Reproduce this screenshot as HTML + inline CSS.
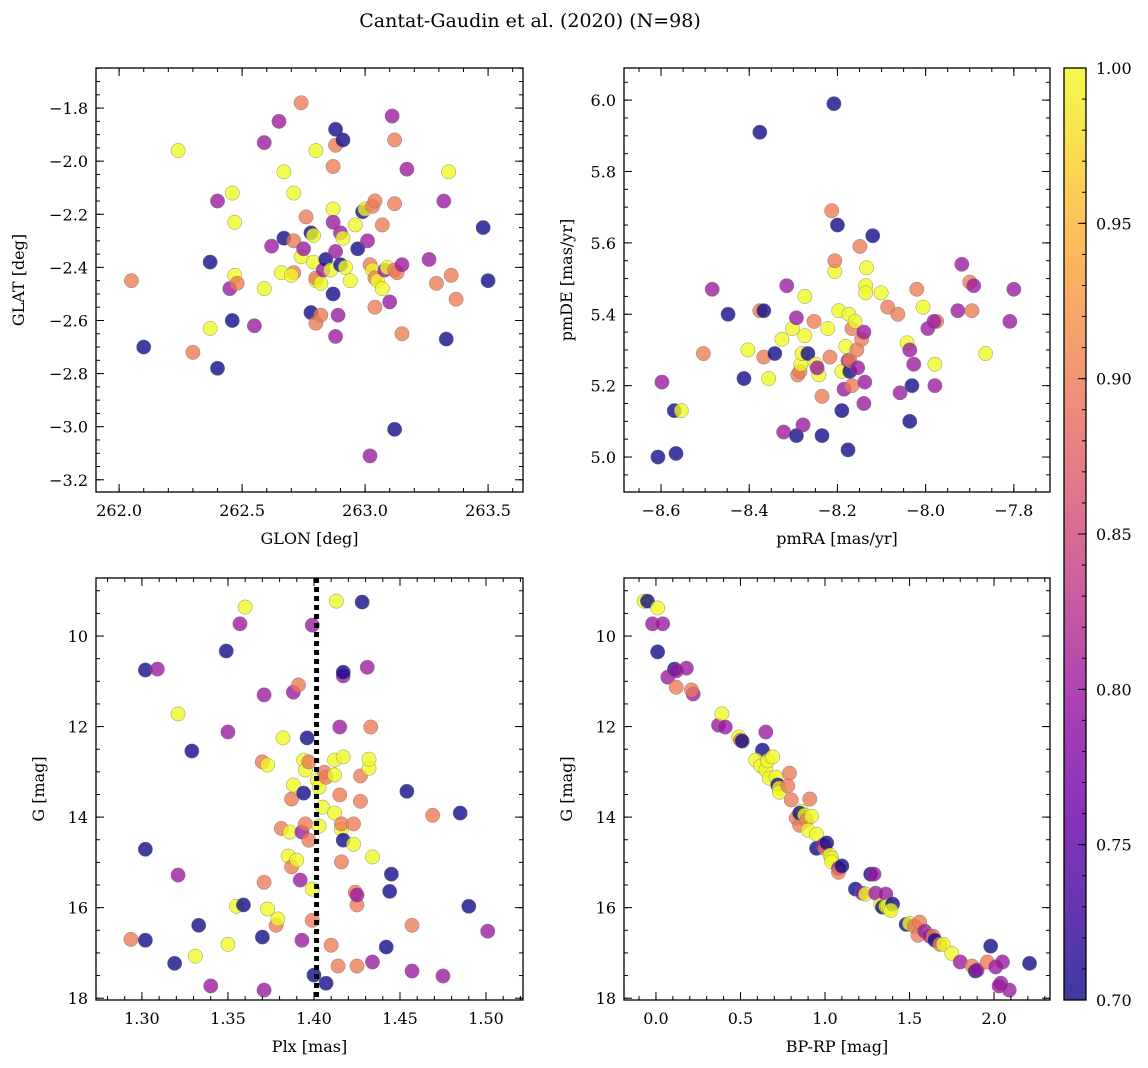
<!DOCTYPE html>
<html><head><meta charset="utf-8"><style>
html,body{margin:0;padding:0;background:#fff;}
svg{display:block;font-family:"DejaVu Serif","Liberation Serif",serif;}
</style></head><body>
<svg id="fig" width="1148" height="1068" viewBox="0 0 1148 1068">
<text x="530" y="27" font-size="19" text-anchor="middle">Cantat-Gaudin et al. (2020) (N=98)</text>
</svg>
<script>
// Panel 1: GLON vs GLAT
const glon=[262.05,262.10,262.24,262.30,262.37,262.37,262.40,262.40,262.45,262.46,262.46,262.47,262.47,262.48,262.55,262.59,262.59,262.62,262.65,262.67,262.67,262.66,262.71,262.71,262.70,262.71,262.74,262.74,262.75,262.76,262.78,262.79,262.80,262.79,262.80,262.80,262.78,262.80,262.82,262.82,262.83,262.84,262.86,262.87,262.88,262.88,262.87,262.87,262.88,262.87,262.89,262.88,262.90,262.90,262.91,262.91,262.92,262.94,262.96,262.97,262.99,263.00,263.01,263.02,263.03,263.02,263.03,263.04,263.04,263.04,263.05,263.07,263.07,263.08,263.09,263.10,263.11,263.12,263.12,263.12,263.13,263.12,263.15,263.15,263.17,263.26,263.29,263.32,263.33,263.34,263.35,263.37,263.48,263.50];
const glat=[-2.45,-2.70,-1.96,-2.72,-2.38,-2.63,-2.15,-2.78,-2.48,-2.12,-2.60,-2.23,-2.43,-2.46,-2.62,-2.48,-1.93,-2.32,-1.85,-2.04,-2.29,-2.42,-2.30,-2.42,-2.43,-2.12,-2.36,-1.78,-2.33,-2.21,-2.27,-2.28,-1.96,-2.38,-2.45,-2.44,-2.57,-2.61,-2.58,-2.46,-2.41,-2.37,-2.41,-2.02,-1.88,-1.94,-2.18,-2.23,-2.34,-2.50,-2.58,-2.66,-2.39,-2.27,-1.92,-2.29,-2.40,-2.45,-2.24,-2.33,-2.19,-2.18,-2.30,-2.39,-2.41,-3.11,-2.17,-2.15,-2.44,-2.55,-2.45,-2.24,-2.48,-2.41,-2.40,-2.53,-1.83,-1.92,-2.16,-2.41,-2.42,-3.01,-2.39,-2.65,-2.03,-2.37,-2.46,-2.15,-2.67,-2.04,-2.43,-2.52,-2.25,-2.45];
const prob1=[0.9,0.7,1,0.9,0.7,1,0.8,0.7,0.8,1,0.7,1,1,0.9,0.8,1,0.8,0.8,0.8,1,0.7,1,0.9,0.9,1,1,1,0.9,0.8,0.9,0.7,1,1,1,1,0.9,0.7,0.9,0.9,1,0.8,0.7,1,0.9,0.7,0.9,1,0.8,0.8,0.7,0.8,0.8,0.7,0.8,0.7,1,1,1,1,0.7,0.7,1,0.8,0.9,1,0.8,0.9,0.9,0.9,0.9,1,0.9,1,0.8,1,0.8,0.8,0.9,0.9,0.9,0.9,0.7,0.8,0.9,0.8,0.8,0.9,0.8,0.7,1,0.9,0.9,0.7,0.7];
// Panel 2: pmRA vs pmDE
const pmra=[-8.607,-8.566,-8.570,-8.554,-8.598,-8.484,-8.504,-8.448,-8.412,-8.403,-8.376,-8.367,-8.367,-8.356,-8.342,-8.326,-8.322,-8.315,-8.376,-8.302,-8.293,-8.290,-8.285,-8.283,-8.280,-8.293,-8.274,-8.274,-8.278,-8.267,-8.253,-8.249,-8.242,-8.246,-8.235,-8.235,-8.222,-8.213,-8.206,-8.206,-8.208,-8.217,-8.200,-8.197,-8.190,-8.190,-8.185,-8.181,-8.176,-8.174,-8.172,-8.176,-8.172,-8.167,-8.167,-8.160,-8.156,-8.149,-8.154,-8.145,-8.140,-8.138,-8.140,-8.136,-8.136,-8.134,-8.120,-8.101,-8.086,-8.063,-8.058,-8.042,-8.036,-8.031,-8.036,-8.027,-8.020,-8.006,-7.995,-7.979,-7.979,-7.975,-7.981,-7.927,-7.918,-7.900,-7.895,-7.891,-7.864,-7.809,-7.800];
const pmde=[5.00,5.01,5.13,5.13,5.21,5.47,5.29,5.40,5.22,5.30,5.41,5.41,5.28,5.22,5.29,5.33,5.07,5.48,5.91,5.36,5.39,5.23,5.24,5.26,5.29,5.06,5.45,5.34,5.09,5.29,5.38,5.26,5.23,5.25,5.06,5.17,5.36,5.69,5.52,5.55,5.99,5.28,5.65,5.41,5.24,5.13,5.19,5.31,5.27,5.40,5.24,5.02,5.27,5.36,5.20,5.38,5.30,5.59,5.25,5.33,5.35,5.21,5.15,5.48,5.46,5.53,5.62,5.46,5.42,5.40,5.18,5.32,5.10,5.20,5.30,5.26,5.47,5.42,5.36,5.26,5.20,5.38,5.38,5.41,5.54,5.49,5.41,5.48,5.29,5.38,5.47];
const prob2=[0.7,0.7,0.7,1,0.8,0.8,0.9,0.7,0.7,1,0.9,0.7,0.9,1,0.7,1,0.8,0.8,0.7,1,0.8,0.9,0.9,1,1,0.7,1,1,0.8,0.7,0.9,1,1,0.8,0.7,0.9,1,0.9,1,0.9,0.7,0.9,0.7,1,1,0.7,0.8,1,0.8,1,0.7,0.7,0.9,0.9,0.9,1,0.9,0.9,0.8,0.9,0.8,0.8,0.8,1,1,1,0.7,1,0.9,0.9,0.8,1,0.7,0.7,0.8,0.8,0.9,1,0.8,1,0.8,0.9,0.8,0.8,0.8,0.9,0.9,0.8,1,0.8,0.8];
// Panel 3: Plx vs G
const plx=[1.2936,1.302,1.302,1.302,1.309,1.319,1.321,1.321,1.329,1.331,1.333,1.340,1.349,1.350,1.350,1.355,1.357,1.359,1.360,1.370,1.371,1.370,1.371,1.371,1.373,1.373,1.378,1.379,1.381,1.382,1.385,1.386,1.387,1.387,1.388,1.388,1.390,1.391,1.393,1.393,1.392,1.394,1.395,1.396,1.394,1.395,1.397,1.397,1.399,1.399,1.399,1.400,1.402,1.403,1.403,1.405,1.406,1.407,1.407,1.410,1.412,1.412,1.412,1.413,1.414,1.415,1.415,1.416,1.416,1.416,1.417,1.417,1.417,1.417,1.423,1.423,1.424,1.425,1.425,1.425,1.427,1.427,1.428,1.431,1.432,1.432,1.433,1.434,1.434,1.442,1.444,1.445,1.454,1.457,1.457,1.469,1.475,1.485,1.490,1.501];
const gmag3=[16.70,14.71,16.72,10.75,10.73,17.23,15.28,11.72,12.54,17.07,16.39,17.73,10.33,16.81,12.12,15.97,9.73,15.94,9.36,16.65,11.30,12.78,17.82,15.44,16.03,12.85,16.39,16.25,14.25,12.25,14.86,14.33,13.60,15.10,11.24,13.29,14.95,11.08,14.33,16.72,15.39,12.74,12.96,12.25,13.47,14.15,12.78,14.51,9.76,15.59,16.28,17.49,13.18,13.34,14.20,13.78,13.01,13.12,17.67,16.83,13.91,12.74,13.07,9.23,17.29,12.01,13.51,14.27,14.99,14.15,10.88,10.80,12.67,14.51,14.60,14.15,15.66,15.94,15.72,17.29,13.09,13.65,9.25,10.69,12.92,12.72,12.01,14.88,17.20,16.87,15.64,15.26,13.43,16.39,17.40,13.96,17.51,13.91,15.97,16.52];
const prob3=[0.9,0.7,0.7,0.7,0.8,0.7,0.8,1,0.7,1,0.7,0.8,0.7,1,0.8,1,0.8,0.7,1,0.7,0.8,0.9,0.8,0.9,1,1,0.9,1,0.9,1,1,1,0.9,0.9,0.8,1,1,0.9,0.8,0.8,0.8,1,1,0.7,0.7,0.9,0.9,0.9,0.8,1,0.9,0.7,1,1,1,1,0.9,0.9,0.7,0.9,1,1,1,1,0.9,0.8,0.9,1,0.9,0.9,0.8,0.7,1,0.7,1,0.9,0.9,0.9,0.8,0.9,0.9,0.9,0.7,0.8,1,1,0.9,1,0.8,0.7,0.7,0.7,0.7,0.9,0.8,0.9,0.8,0.7,0.7,0.8];
const plxMean=[1.4015];
// Panel 4: BP-RP vs G
const bprp=[-0.07,-0.05,0.01,-0.02,0.04,0.01,0.07,0.11,0.12,0.12,0.18,0.22,0.21,0.37,0.39,0.41,0.49,0.50,0.51,0.63,0.65,0.59,0.62,0.65,0.66,0.67,0.69,0.71,0.72,0.73,0.73,0.79,0.78,0.80,0.83,0.85,0.86,0.85,0.88,0.89,0.90,0.91,0.92,0.95,0.95,0.99,1.00,1.01,1.03,1.04,1.04,1.08,1.08,1.10,1.18,1.22,1.24,1.27,1.29,1.30,1.33,1.34,1.36,1.36,1.37,1.38,1.40,1.39,1.48,1.50,1.53,1.55,1.56,1.59,1.62,1.64,1.65,1.68,1.70,1.75,1.80,1.87,1.89,1.90,1.96,1.98,2.01,2.04,2.03,2.05,2.09,2.21];
const gmag4=[9.23,9.23,9.38,9.73,9.73,10.35,10.91,10.73,10.77,11.13,10.71,11.28,11.19,11.97,11.72,12.01,12.23,12.30,12.32,12.52,12.12,12.74,12.87,12.96,12.76,13.14,12.67,13.12,13.29,13.36,13.45,13.03,13.31,13.62,14.02,14.18,13.87,13.91,13.96,14.07,14.29,13.60,13.98,14.38,14.69,14.62,14.69,14.57,14.84,14.91,14.99,15.13,15.22,15.08,15.59,15.68,15.70,15.26,15.26,15.68,15.94,15.99,15.70,15.97,15.97,16.03,15.92,16.06,16.37,16.35,16.41,16.61,16.32,16.52,16.63,16.63,16.72,16.81,16.81,17.01,17.20,17.29,17.40,17.38,17.20,16.85,17.31,17.67,17.73,17.20,17.82,17.23];
const prob4=[1,0.7,1,0.8,0.8,0.7,0.8,0.7,0.8,0.9,0.8,0.8,0.9,0.8,1,0.8,1,0.9,0.7,0.7,0.8,1,1,1,1,1,1,1,0.7,1,1,0.9,0.9,0.9,0.9,0.9,1,0.7,1,0.9,1,0.9,1,1,0.7,0.8,0.9,0.7,1,1,1,0.8,0.9,0.7,0.7,0.8,1,0.7,0.8,0.8,1,0.7,0.8,1,1,1,0.7,1,0.7,1,0.9,0.9,0.9,0.8,0.8,0.9,0.7,0.9,1,1,0.8,0.9,0.7,0.8,0.9,0.7,0.8,0.8,0.8,0.8,0.8,0.7];
const cbTicks=[0.70,0.75,0.80,0.85,0.90,0.95,1.00];

const NS='http://www.w3.org/2000/svg';
const svg=document.getElementById('fig');
const stops=['#0d0887','#41049d','#6a00a8','#8f0da4','#b12a90','#cc4778','#e16462','#f2844b','#fca636','#fcce25','#f0f921'];
function hex(c){return [1,3,5].map(i=>parseInt(c.substr(i,2),16));}
function plasma(t){t=Math.max(0,Math.min(1,t));const f=t*10,i=Math.min(9,Math.floor(f)),u=f-i;const a=hex(stops[i]),b=hex(stops[i+1]);return 'rgb('+a.map((v,k)=>Math.round(v+(b[k]-v)*u)).join(',')+')';}
function pc(p){return plasma((p-0.7)/0.3);}
function mk(tag,at,parent){const e=document.createElementNS(NS,tag);for(const k in at)e.setAttribute(k,at[k]);(parent||svg).appendChild(e);return e;}
function fmt(v,d){const s=Math.abs(v).toFixed(d);return (v<-1e-9?'\u2212':'')+s;}
function range(a,b,s){const r=[];for(let v=a;v<=b+s*1e-6;v+=s)r.push(Math.round(v/s)*s);return r;}

function panel(c){
  const g=mk('g',{});
  
  
  const X=v=>c.L+(v-c.x0)/(c.x1-c.x0)*(c.R-c.L);
  const Y=v=>c.T+(v-c.y0)/(c.y1-c.y0)*(c.B-c.T);
  const pg=mk('g',{},g);
  for(let i=0;i<c.xs.length;i++){
    const el=mk('circle',{cx:X(c.xs[i]),cy:Y(c.ys[i]),r:7.2,fill:pc(c.ps[i]),'fill-opacity':0.78,stroke:'#777','stroke-width':0.5,'stroke-opacity':0.8},pg);
    
    
  }
  if(c.extra)c.extra(g,X,Y);
  mk('rect',{x:c.L,y:c.T,width:c.R-c.L,height:c.B-c.T,fill:'none',stroke:'#000','stroke-width':1.3},g);
  const tk=mk('g',{stroke:'#000','stroke-width':1},g);
  const lo=Math.min(c.x0,c.x1),hi=Math.max(c.x0,c.x1);
  c.xmin.forEach(v=>{if(v<lo||v>hi)return;const x=X(v);mk('line',{x1:x,x2:x,y1:c.B,y2:c.B-4},tk);mk('line',{x1:x,x2:x,y1:c.T,y2:c.T+4},tk);});
  c.xmaj.forEach(v=>{const x=X(v);mk('line',{x1:x,x2:x,y1:c.B,y2:c.B-8},tk);mk('line',{x1:x,x2:x,y1:c.T,y2:c.T+8},tk);
    const t=mk('text',{x:x,y:c.B+24,'font-size':16,'text-anchor':'middle'},g);t.textContent=fmt(v,c.xd);
    });
  const ylo=Math.min(c.y0,c.y1),yhi=Math.max(c.y0,c.y1);
  c.ymin.forEach(v=>{if(v<ylo||v>yhi)return;const y=Y(v);mk('line',{x1:c.L,x2:c.L+4,y1:y,y2:y},tk);mk('line',{x1:c.R,x2:c.R-4,y1:y,y2:y},tk);});
  c.ymaj.forEach(v=>{const y=Y(v);mk('line',{x1:c.L,x2:c.L+8,y1:y,y2:y},tk);mk('line',{x1:c.R,x2:c.R-8,y1:y,y2:y},tk);
    const t=mk('text',{x:c.L-8,y:y+6,'font-size':16,'text-anchor':'end'},g);t.textContent=fmt(v,c.yd);
    });
  const xl=mk('text',{x:(c.L+c.R)/2,y:c.B+52,'font-size':16,'text-anchor':'middle'},g);xl.textContent=c.xlab;
  
  const yx=c.ylx;const yy=(c.T+c.B)/2;
  const yl=mk('text',{x:yx,y:yy,'font-size':16,'text-anchor':'middle',transform:'rotate(-90 '+yx+' '+yy+')'},g);yl.textContent=c.ylab;
  
}

panel({name:'glon-glat-panel',L:96,R:523,T:68,B:492,x0:261.906,x1:263.642,y0:-1.649,y1:-3.246,xs:glon,ys:glat,ps:prob1,
  xmaj:range(262,263.5,0.5),xmin:range(261.9,263.7,0.1),ymaj:range(-3.2,-1.8,0.2),ymin:range(-3.25,-1.65,0.05),xd:1,yd:1,xlab:'GLON [deg]',ylab:'GLAT [deg]',ylx:24});
panel({name:'proper-motion-panel',L:624,R:1050,T:68,B:492,x0:-8.684,x1:-7.718,y0:6.090,y1:4.902,xs:pmra,ys:pmde,ps:prob2,
  xmaj:range(-8.6,-7.8,0.2),xmin:range(-8.7,-7.7,0.05),ymaj:range(5.0,6.0,0.2),ymin:range(4.9,6.1,0.05),xd:1,yd:1,xlab:'pmRA [mas/yr]',ylab:'pmDE [mas/yr]',ylx:572});
panel({name:'parallax-g-panel',L:96,R:523,T:578,B:1000,x0:1.2733,x1:1.5215,y0:8.718,y1:18.04,xs:plx,ys:gmag3,ps:prob3,
  xmaj:range(1.30,1.50,0.05),xmin:range(1.27,1.53,0.01),ymaj:range(10,18,2),ymin:range(9,18,0.5),xd:2,yd:0,xlab:'Plx [mas]',ylab:'G [mag]',ylx:44,
  extra:(g,X,Y)=>{plxMean.forEach(v=>{const l=mk('line',{x1:X(v),x2:X(v),y1:578,y2:1000,stroke:'#000','stroke-width':5,'stroke-dasharray':'5 4'},g);
    });}});
panel({name:'cmd-panel',L:624,R:1050,T:578,B:1000,x0:-0.189,x1:2.331,y0:8.718,y1:18.04,xs:bprp,ys:gmag4,ps:prob4,
  xmaj:range(0,2,0.5),xmin:range(-0.1,2.3,0.1),ymaj:range(10,18,2),ymin:range(9,18,0.5),xd:1,yd:0,xlab:'BP-RP [mag]',ylab:'G [mag]',ylx:572});

const cb=mk('g',{});


const defs=mk('defs',{},cb);
const lg=mk('linearGradient',{id:'cbg',x1:0,y1:1,x2:0,y2:0},defs);
for(let i=0;i<=20;i++)mk('stop',{offset:i/20,'stop-color':plasma(i/20)},lg);
const cT=68,cB=1000,cL=1064,cR=1086;
mk('rect',{x:cL,y:cT,width:cR-cL,height:cB-cT,fill:'url(#cbg)','fill-opacity':0.8},cb);
mk('rect',{x:cL,y:cT,width:cR-cL,height:cB-cT,fill:'none',stroke:'#000','stroke-width':1.3},cb);
const CY=v=>cB-(v-0.7)/0.3*(cB-cT);
range(0.70,1.00,0.01).forEach(v=>{mk('line',{x1:cR,x2:cR-4,y1:CY(v),y2:CY(v),stroke:'#000'},cb);});
cbTicks.forEach(v=>{const y=CY(v);mk('line',{x1:cR,x2:cR-8,y1:y,y2:y,stroke:'#000'},cb);
  const t=mk('text',{x:cR+10,y:y+6,'font-size':16},cb);t.textContent=v.toFixed(2);
  });
</script>
</body></html>
